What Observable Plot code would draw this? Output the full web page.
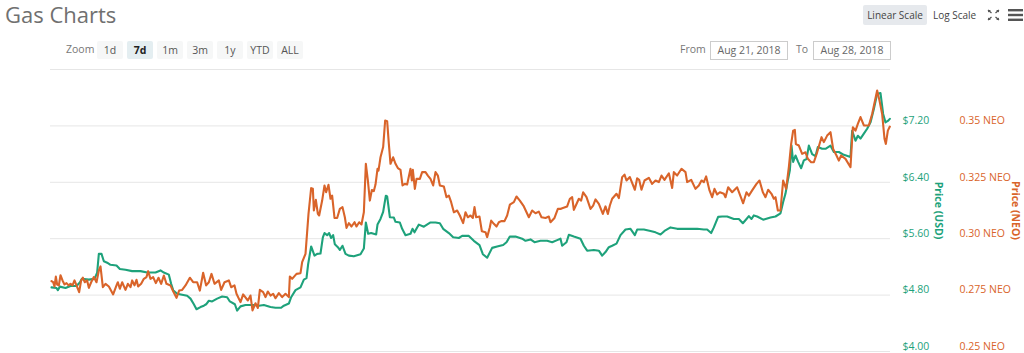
<!DOCTYPE html>
<html><head><meta charset="utf-8">
<script src="https://cdn.jsdelivr.net/npm/d3@7"></script>
<script src="https://cdn.jsdelivr.net/npm/@observablehq/plot@0.6"></script>
<style>
html,body{margin:0;padding:0;background:#fff;overflow:hidden}
#wrap{position:relative;width:1024px;height:353px;font-family:"Open Sans",sans-serif;color:#666}
#wrap svg.chart{position:absolute;left:0;top:0}
.t{position:absolute;white-space:nowrap;line-height:1}
.btn{position:absolute;top:41px;width:26px;height:18px;background:#f6f7f7;border-radius:2px;font-size:10.5px;line-height:18px;text-align:center;color:#555}
.btn.on{background:#e4eef1;color:#222;font-weight:700}
.box{position:absolute;top:41px;height:17px;width:76px;border:1px solid #ccc;font-size:10.5px;line-height:17px;text-align:center;color:#666}
</style></head><body><div id="wrap"></div>
<script>
const title = "Gas Charts";
const rangeButtons = ["1d","7d","1m","3m","1y","YTD","ALL"];
const activeRange = "7d";
const fromDate = "Aug 21, 2018";
const toDate = "Aug 28, 2018";
const usdTicks = [4.0,4.8,5.6,6.4,7.2];
const neoTicks = [0.25,0.275,0.30,0.325,0.35];

// hours since the start of Aug 21, 2018
const usdHours = [0.2,1.2,1.47,1.87,3,4,5.2,5.87,6.27,7.67,8.8,9.33,9.67,10.2,10.67,11.33,12,13.2,13.87,15,16.33,18,19.33,21,22,22.67,23.67,24.13,24.53,25.33,27.33,28,28.67,29.2,30,30.67,31.13,31.67,32.33,33.33,34.33,35.33,35.87,36.87,37.33,38,39,40.67,41.67,42.67,44,45,46.13,46.67,47.67,48.13,49,50,50.67,51.2,51.53,52.13,52.8,53.33,54,54.47,54.8,55.33,55.73,56.13,56.53,56.87,57.47,57.87,58.4,59,59.67,60.67,62,62.67,63.07,63.53,64.13,65.13,65.4,66,66.53,67.07,67.33,67.87,68.67,69,69.87,70.33,71,72,72.4,72.8,73.33,73.67,74.67,76,77,77.87,78.53,79.67,80.53,81.67,82.33,83.67,84.67,85.8,86.47,87.33,88.33,89.33,90.53,91.2,91.87,93,94.33,95,96,96.8,98,99.33,100.33,101.33,102,102.33,103.2,103.67,104.67,106,106.67,107.33,108.67,109.67,110.33,111,111.67,112.33,113.2,114,115,116,116.87,117.33,118.67,120,121,122,122.8,124,125.33,126.67,128,129.33,130.67,131.33,132.13,132.67,133.53,134.33,135.33,136.67,137.67,138.47,139.2,139.67,140.2,140.67,141.33,142.53,144,145,146,146.53,147,147.47,147.87,148.2,148.53,149,149.53,150.13,150.67,151.2,151.67,152.33,153,153.47,154.33,155,156,156.67,157.67,158.67,160,160.33,161,161.47,162,162.67,163.33,164,164.67,165.33,166,166.53,167,167.47,167.87];
const usdPrice = [4.91,4.90,4.87,4.92,4.90,4.93,4.93,4.98,5.03,5.02,5.03,5.12,5.385,5.385,5.28,5.26,5.23,5.22,5.17,5.16,5.14,5.14,5.12,5.12,5.15,5.12,5.09,4.96,4.87,4.82,4.79,4.75,4.67,4.60,4.63,4.65,4.67,4.72,4.71,4.75,4.78,4.77,4.71,4.67,4.58,4.64,4.66,4.66,4.65,4.66,4.63,4.62,4.62,4.65,4.68,4.77,4.87,4.91,5.02,5.04,5.24,5.49,5.36,5.385,5.39,5.62,5.68,5.65,5.68,5.61,5.65,5.52,5.48,5.44,5.50,5.385,5.36,5.35,5.38,5.46,5.83,5.67,5.68,5.66,5.80,5.88,5.98,6.21,6.20,5.905,5.90,5.84,5.83,5.74,5.65,5.67,5.74,5.69,5.76,5.80,5.77,5.83,5.83,5.82,5.74,5.68,5.62,5.61,5.64,5.64,5.57,5.51,5.38,5.33,5.47,5.49,5.51,5.55,5.63,5.63,5.60,5.57,5.59,5.55,5.57,5.57,5.55,5.58,5.60,5.50,5.55,5.655,5.63,5.60,5.50,5.43,5.44,5.43,5.36,5.41,5.48,5.50,5.53,5.65,5.73,5.74,5.65,5.73,5.73,5.71,5.69,5.66,5.71,5.76,5.74,5.74,5.74,5.74,5.73,5.73,5.68,5.76,5.91,5.915,5.915,5.88,5.88,5.82,5.88,5.92,5.88,5.93,5.915,5.87,5.90,5.915,5.96,6.12,6.24,6.43,6.57,6.92,6.69,6.78,6.69,6.60,6.71,6.73,6.92,6.80,6.77,6.90,6.875,6.875,6.92,6.83,6.83,6.79,6.76,7.13,6.99,7.06,7.02,7.09,7.16,7.25,7.44,7.655,7.665,7.37,7.25,7.27,7.30];

const neoHours = [0.2,0.53,0.8,1.07,1.33,1.67,2,2.4,2.8,3.2,3.6,4,4.4,4.8,5.2,5.73,6.13,6.47,6.87,7.33,7.67,8.13,8.67,9.2,9.67,10,10.47,11,11.67,12.53,13.2,13.47,13.87,14.33,15,15.47,16,16.33,16.8,17.2,17.53,18.13,18.67,19.2,19.53,20,20.53,21.07,21.6,22.13,22.67,23.2,24,24.53,25.2,25.73,26.33,27,27.87,28.53,29.33,29.87,30.53,31.13,31.67,32.2,32.8,33.67,34.13,34.8,35.67,36.13,36.8,37.2,38,38.53,39.47,40,40.4,41,41.47,41.87,42.53,43,43.47,44,44.53,45,45.67,46.33,47,47.67,47.87,48.33,49.2,50,50.33,51,51.6,52.13,52.47,52.67,53.07,53.47,53.73,54.33,54.8,55.13,55.6,56,56.33,56.8,57.33,57.87,58.4,58.87,59.2,59.67,60.2,60.8,61.2,61.73,62.2,62.67,63.07,63.47,63.87,64.27,64.67,65,65.4,65.6,66,66.53,66.93,67.33,67.67,68,68.53,69,69.47,70,70.4,70.87,71.33,72,72.27,72.47,72.87,73.2,73.87,74.33,75,75.47,76,76.53,77,77.47,77.87,78.67,79.2,79.67,80.13,80.67,81.33,81.87,82.53,83,83.47,84,84.47,84.8,85.13,85.8,86.27,87,87.33,87.87,88.13,88.67,89.2,89.67,90.13,90.8,91.33,91.87,92.67,93.2,93.87,94.67,95.67,96.33,97,97.67,98.2,99,99.67,100,100.8,101.47,102,102.33,103.33,103.87,104.33,104.67,105.2,105.67,106.13,106.53,107.2,108,108.53,109,109.67,110.47,111,111.47,111.87,112.33,113.2,113.67,114.33,114.8,115.2,115.87,116.87,117.33,117.73,118.2,118.8,119.67,120.33,121,121.67,122.2,122.8,123.67,124.33,124.67,125.33,126.2,127,127.33,128.13,129,129.67,130.2,130.67,131.13,131.8,132.33,132.8,133.33,133.87,134.67,135,135.53,136.33,137.33,138.2,138.53,139.2,139.67,140.33,141.2,141.8,142.47,143,143.53,144.2,144.67,145,145.47,146,146.53,147.13,147.67,148.13,148.53,148.87,149.07,149.67,150.33,151,151.47,152.13,152.67,153.33,154.2,154.67,155.33,156,156.53,157.2,157.67,158.13,159,160,160.47,161,161.47,162,162.67,163.67,164.33,165.33,165.8,166.33,166.8,167.07,167.47,167.87];
const neoPrice = [.2812,.2807,.2788,.2832,.2797,.2793,.2838,.2815,.2797,.2803,.2793,.28,.2793,.2815,.2793,.2763,.2815,.2827,.2807,.2815,.2782,.2807,.283,.2807,.2859,.2877,.2785,.28,.2788,.2753,.2793,.2807,.2778,.2807,.2773,.28,.2785,.2815,.2793,.2818,.2788,.28,.2822,.283,.2856,.2822,.283,.2803,.2827,.28,.2837,.28,.2793,.2767,.2738,.277,.2773,.2793,.2827,.2807,.2807,.277,.2849,.2793,.2807,.2844,.28,.2815,.2773,.2807,.2815,.2785,.2793,.2756,.2719,.2753,.2726,.2748,.2682,.2714,.2693,.2773,.2763,.2741,.2766,.2748,.2756,.2736,.2759,.2741,.2756,.2741,.2832,.2822,.2844,.2847,.2896,.2933,.3110,.3224,.3221,.3125,.3172,.3110,.3103,.3169,.3236,.3206,.3239,.3177,.3191,.3092,.3092,.3132,.3140,.3095,.3048,.3069,.3054,.3073,.3054,.3073,.3063,.3117,.3332,.3258,.3169,.3216,.3211,.3240,.3310,.3302,.3361,.3406,.3524,.3521,.3420,.3332,.3361,.3332,.3313,.3305,.3236,.3243,.3240,.3310,.3258,.3305,.3221,.3265,.3265,.3295,.3295,.3280,.3265,.3236,.3295,.3280,.3236,.3231,.3184,.3191,.3162,.3117,.3125,.3103,.3069,.3117,.3095,.3103,.3092,.3140,.3095,.3098,.3033,.3029,.3007,.3051,.3080,.3066,.3054,.3073,.3078,.3078,.3103,.3151,.3162,.3187,.3169,.3143,.3095,.3125,.3113,.3120,.3095,.3092,.3098,.3073,.3092,.3132,.3132,.3135,.3143,.3177,.3184,.3128,.3154,.3177,.3169,.3206,.3184,.3132,.3147,.3174,.3154,.3110,.3143,.3110,.3147,.3177,.3199,.3180,.3273,.3284,.3258,.3273,.3217,.3268,.3261,.3217,.3258,.3270,.3243,.3258,.3251,.3280,.3261,.3290,.3225,.3295,.3280,.3310,.3295,.3251,.3261,.3221,.3236,.3258,.3251,.3276,.3214,.3184,.3221,.3196,.3206,.3199,.3184,.3228,.3206,.3228,.3177,.3157,.3206,.3191,.3214,.3243,.3258,.3206,.3184,.3217,.3199,.3177,.3184,.3125,.3125,.3258,.3221,.3317,.3420,.3479,.3482,.3420,.3413,.3376,.3383,.3354,.3339,.3339,.3383,.3450,.3428,.3457,.3472,.3398,.3369,.3346,.3369,.3354,.3317,.3494,.3479,.3509,.3539,.3502,.3502,.3553,.3657,.3612,.3553,.3443,.3420,.3479,.3497];

// the NEO axis shares the pixel grid: 0.025 NEO spans the same height as $0.80
const neoToUsd = n => 4 + (n - 0.25) * 32;
const usdRows = usdHours.map((h,i)=>({h, v:usdPrice[i]}));
const neoRows = neoHours.map((h,i)=>({h, v:neoToUsd(neoPrice[i])}));
const GREEN = "#1ea27b", ORANGE = "#d9642a";

const chart = Plot.plot({
  width:1024, height:353,
  marginLeft:50, marginRight:134, marginTop:69, marginBottom:2,
  x:{domain:[0,168], axis:null},
  y:{domain:[4,8], axis:null},
  style:{fontFamily:'"Open Sans",sans-serif', background:"transparent", overflow:"visible"},
  marks:[
    Plot.ruleY([4,4.8,5.6,6.4,7.2,8],{stroke:"#e6e6e6", strokeWidth:1}),
    Plot.line(usdRows,{x:"h",y:"v",stroke:GREEN,strokeWidth:2.1,curve:"linear"}),
    Plot.line(neoRows,{x:"h",y:"v",stroke:ORANGE,strokeWidth:2.1,curve:"linear"}),
    Plot.text(usdTicks,{y:d=>d,frameAnchor:"right",textAnchor:"start",dx:12,dy:-5,
      text:d=>"$"+d.toFixed(2),fill:GREEN,fontSize:10.5}),
    Plot.text(neoTicks,{y:neoToUsd,frameAnchor:"right",textAnchor:"start",dx:69,dy:-5,
      text:d=>(d===0.25||d===0.35||d===0.30?d.toFixed(2):d.toFixed(3))+" NEO",fill:ORANGE,fontSize:10.5}),
    Plot.text(["Price (USD)"],{y:()=>6.0,frameAnchor:"right",textAnchor:"middle",dx:48,rotate:90,text:d=>d,fill:GREEN,fontSize:10.5,fontWeight:700}),
    Plot.text(["Price (NEO)"],{y:()=>6.0,frameAnchor:"right",textAnchor:"middle",dx:125,rotate:90,text:d=>d,fill:ORANGE,fontSize:10.5,fontWeight:700})
  ]
});
chart.setAttribute("class", (chart.getAttribute("class")||"")+" chart");
const wrap = document.getElementById("wrap");
wrap.appendChild(chart);

function add(cls, txt, css){
  const e=document.createElement("div"); e.className=cls; e.textContent=txt;
  Object.assign(e.style,css); wrap.appendChild(e); return e;
}
add("t",title,{left:"5px",top:"3px",fontSize:"22px",color:"#707070"});
add("t","Zoom",{left:"66px",top:"44px",fontSize:"10.5px",color:"#777"});
rangeButtons.forEach((b,i)=>add("btn"+(b===activeRange?" on":""),b,{left:(97+30*i)+"px"}));
add("t","From",{left:"680px",top:"44px",fontSize:"10.5px",color:"#777"});
add("box",fromDate,{left:"710px"});
add("t","To",{left:"796px",top:"44px",fontSize:"10.5px",color:"#777"});
add("box",toDate,{left:"813px"});
add("t","Linear Scale",{left:"863px",top:"5px",width:"64px",height:"20px",lineHeight:"20px",textAlign:"center",background:"#e6e9ed",borderRadius:"2px",fontSize:"10px",color:"#444"});
add("t","Log Scale",{left:"933px",top:"5px",height:"20px",lineHeight:"20px",fontSize:"10px",color:"#444"});
const icons=document.createElementNS("http://www.w3.org/2000/svg","svg");
icons.setAttribute("width","40");icons.setAttribute("height","20");
icons.style.cssText="position:absolute;left:984px;top:5px";
icons.innerHTML='<g stroke="#555" stroke-width="1.3" fill="none"><path d="M4 5l3.5 3M15 5l-3.5 3M4 15l3.5-3M15 15l-3.5-3"/></g><g fill="#555"><path d="M4 5h3l-3 2.6zM15 5h-3l3 2.6zM4 15h3l-3-2.6zM15 15h-3l3-2.6z"/><rect x="24" y="4" width="15" height="2.4"/><rect x="24" y="8.8" width="15" height="2.4"/><rect x="24" y="13.6" width="15" height="2.4"/></g>';
wrap.appendChild(icons);
</script></body></html>
